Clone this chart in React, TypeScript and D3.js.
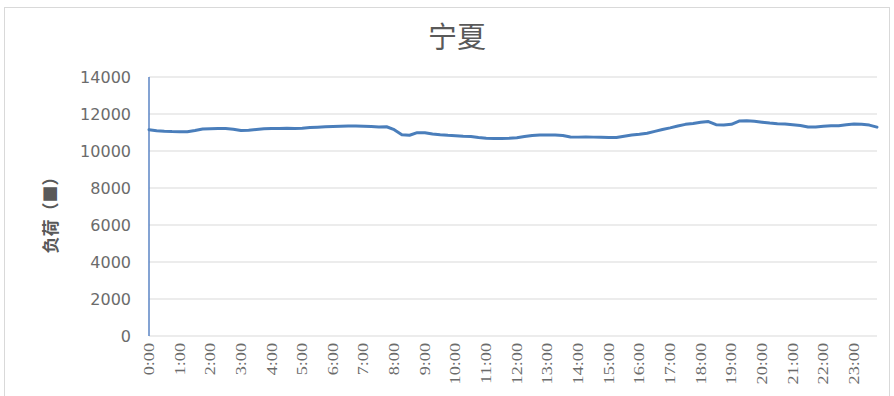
import React from "react";
import * as d3 from "d3";

const title = "宁夏";
const yAxisTitle = "负荷（■）";
const yTicks = [0, 2000, 4000, 6000, 8000, 10000, 12000, 14000];
const hourLabels = Array.from({ length: 24 }, (_, h) => `${h}:00`);
const times: string[] = [];
for (let h = 0; h < 24; h++) for (let m = 0; m < 60; m += 15) times.push(`${h}:${m === 0 ? "00" : m}`);
const load = [
  11150, 11100, 11070, 11050, 11040, 11040, 11110, 11190, 11200, 11210,
  11220, 11180, 11110, 11120, 11160, 11200, 11210, 11210, 11230, 11220,
  11230, 11270, 11290, 11310, 11330, 11340, 11350, 11350, 11340, 11330,
  11300, 11310, 11150, 10880, 10850, 10990, 10990, 10920, 10880, 10850,
  10830, 10800, 10780, 10730, 10690, 10680, 10680, 10690, 10720, 10780,
  10840, 10860, 10870, 10870, 10840, 10760, 10750, 10760, 10750, 10740,
  10730, 10730, 10800, 10860, 10900, 10960, 11060, 11160, 11250, 11350,
  11440, 11490, 11550, 11590, 11420, 11400, 11440, 11620, 11640, 11610,
  11560, 11510, 11470, 11460, 11420, 11380, 11300, 11300, 11340, 11370,
  11370, 11420, 11460, 11440, 11400, 11290,
];

export default function App() {
  const W = 894, H = 396;
  const left = 149, right = 877, top = 77, bottom = 336;
  const x = d3.scalePoint<string>().domain(times).range([left, right]);
  const y = d3.scaleLinear().domain([0, 14000]).range([bottom, top]);
  const line = d3.line<number>().x((_, i) => x(times[i])!).y((d) => y(d));
  const grey = "#595959";
  const tickGrey = "#6b6b6b";
  return (
    <svg width={W} height={H} style={{ position: "absolute", left: 0, top: 0 }}>
      <rect x={0} y={0} width={W} height={H} fill="#fff" />
      <rect x={4.5} y={7.5} width={885} height={400} fill="#fff" stroke="#d9d9d9" />
      <text x={457} y={48} textAnchor="middle" fontSize={29} fill={grey}
        fontFamily="'Noto Sans CJK SC', sans-serif">{title}</text>
      {yTicks.map((t) => (
        <g key={t}>
          {t > 0 && <line x1={left} x2={right} y1={y(t)} y2={y(t)} stroke="#d9d9d9" strokeWidth={1} />}
          <text x={131} y={y(t)} dy="0.35em" textAnchor="end" fontSize={16} fill={tickGrey}
            fontFamily="'DejaVu Sans', sans-serif">{t}</text>
        </g>
      ))}
      <line x1={left} x2={right} y1={bottom} y2={bottom} stroke="#d9d9d9" strokeWidth={1} />
      <line x1={left} x2={left} y1={top} y2={bottom} stroke="#5b84c4" strokeWidth={1.5} />
      <text transform={`translate(51,${211}) rotate(-90)`} textAnchor="middle" dy="0.35em"
        fontSize={17} fontWeight={600} fill={grey} fontFamily="'Noto Sans CJK SC', sans-serif">{yAxisTitle}</text>
      {hourLabels.map((lab, h) => (
        <text key={lab} transform={`translate(${x(times[h * 4])},343) rotate(-90) scale(1.3,1)`} textAnchor="end"
          dy="0.35em" fontSize={14} fill={tickGrey} fontFamily="'Liberation Serif', serif">{lab}</text>
      ))}
      <path d={line(load) || ""} fill="none" stroke="#4a7ebb" strokeWidth={3} strokeLinejoin="round" strokeLinecap="round" />
    </svg>
  );
}
